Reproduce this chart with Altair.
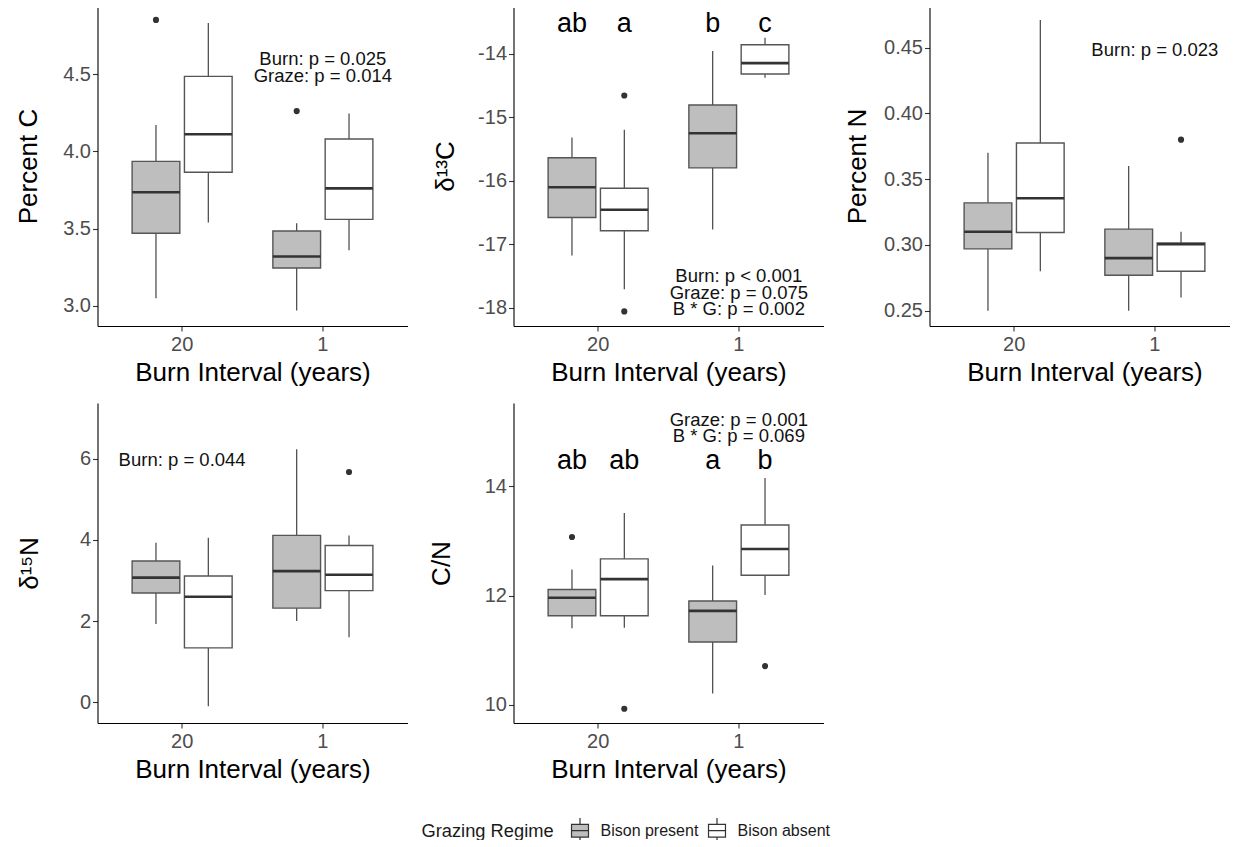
import altair as alt
import pandas as pd

FONT = "Liberation Sans"
GRAZE = ["Bison present", "Bison absent"]
BURN = ["20", "1"]

burn = ["20", "20", "1", "1"]
graze = ["Bison present", "Bison absent", "Bison present", "Bison absent"]

# Percent C
pc_lo = [3.05, 3.54, 2.97, 3.36]
pc_q1 = [3.47, 3.865, 3.245, 3.56]
pc_med = [3.735, 4.11, 3.32, 3.76]
pc_q3 = [3.935, 4.485, 3.485, 4.08]
pc_hi = [4.17, 4.83, 3.535, 4.245]
pc_out_burn = ["20", "1"]
pc_out_graze = ["Bison present", "Bison present"]
pc_out_val = [4.85, 4.26]
pc_ann_text = ["Burn: p = 0.025", "Graze: p = 0.014"]
pc_ann_burn = ["1", "1"]
pc_ann_y = [4.596, 4.488]

# delta 13C
dc_lo = [-17.18, -17.71, -16.77, -14.38]
dc_q1 = [-16.58, -16.79, -15.80, -14.32]
dc_med = [-16.105, -16.46, -15.255, -14.15]
dc_q3 = [-15.64, -16.12, -14.81, -13.86]
dc_hi = [-15.32, -15.20, -13.96, -13.75]
dc_out_burn = ["20", "20"]
dc_out_graze = ["Bison absent", "Bison absent"]
dc_out_val = [-14.66, -18.06]
dc_letters = ["ab", "a", "b", "c"]
dc_letter_y = -13.53
dc_ann_text = ["Burn: p < 0.001", "Graze: p = 0.075", "B * G: p = 0.002"]
dc_ann_burn = ["1", "1", "1"]
dc_ann_y = [-17.507, -17.77, -18.03]

# Percent N
pn_lo = [0.25, 0.28, 0.25, 0.26]
pn_q1 = [0.297, 0.3095, 0.277, 0.28]
pn_med = [0.31, 0.3355, 0.29, 0.3005]
pn_q3 = [0.332, 0.3775, 0.312, 0.3015]
pn_hi = [0.37, 0.471, 0.36, 0.31]
pn_out_burn = ["1"]
pn_out_graze = ["Bison absent"]
pn_out_val = [0.38]
pn_ann_text = ["Burn: p = 0.023"]
pn_ann_burn = ["1"]
pn_ann_y = [0.4485]

# delta 15N
dn_lo = [1.93, -0.10, 2.00, 1.60]
dn_q1 = [2.69, 1.34, 2.32, 2.75]
dn_med = [3.07, 2.60, 3.23, 3.14]
dn_q3 = [3.48, 3.11, 4.11, 3.86]
dn_hi = [3.93, 4.05, 6.23, 4.11]
dn_out_burn = ["1"]
dn_out_graze = ["Bison absent"]
dn_out_val = [5.67]
dn_ann_text = ["Burn: p = 0.044"]
dn_ann_burn = ["20"]
dn_ann_y = [5.96]

# C/N
cn_lo = [11.40, 11.41, 10.21, 12.01]
cn_q1 = [11.63, 11.63, 11.15, 12.37]
cn_med = [11.96, 12.30, 11.72, 12.85]
cn_q3 = [12.11, 12.67, 11.90, 13.29]
cn_hi = [12.475, 13.51, 12.55, 14.15]
cn_out_burn = ["20", "20", "1"]
cn_out_graze = ["Bison present", "Bison absent", "Bison absent"]
cn_out_val = [13.07, 9.93, 10.71]
cn_letters = ["ab", "ab", "a", "b"]
cn_letter_y = 14.46
cn_ann_text = ["Graze: p = 0.001", "B * G: p = 0.069"]
cn_ann_burn = ["1", "1"]
cn_ann_y = [15.21, 14.91]

W, H = 310, 320
BOX_W = 47.7


def panel(lo, q1, med, q3, hi, ob, og, ov, at, ab, ay, ytitle, domain, ticks,
          label_expr, title_pad, letters=None, letter_y=None):
    stats = pd.DataFrame({"burn": burn, "graze": graze, "lo": lo, "q1": q1,
                          "med": med, "q3": q3, "hi": hi})
    outl = pd.DataFrame({"burn": ob, "graze": og, "val": ov})
    ann = pd.DataFrame({"burn": ab, "y": ay, "text": at})

    xaxis = alt.Axis(title="Burn Interval (years)", labelAngle=0,
                     labelPadding=3, titlePadding=5)
    xenc = alt.X("burn:N", sort=BURN,
                 scale=alt.Scale(domain=BURN, paddingInner=0.2893, paddingOuter=0.246),
                 axis=xaxis)
    xo = alt.XOffset("graze:N", sort=GRAZE,
                     scale=alt.Scale(domain=GRAZE, paddingInner=0.088, paddingOuter=0))
    yscale = alt.Scale(domain=domain, nice=False, zero=False)
    yaxis = alt.Axis(title=ytitle, values=ticks, labelExpr=label_expr,
                     titlePadding=title_pad, labelPadding=2)

    whisk = alt.Chart(stats).mark_rule(color="#333333", strokeWidth=1.1).encode(
        x=xenc, xOffset=xo,
        y=alt.Y("lo:Q", scale=yscale, axis=yaxis), y2="hi:Q")
    box = alt.Chart(stats).mark_bar(stroke="#555555", strokeWidth=1.4).encode(
        x=xenc, xOffset=xo,
        y=alt.Y("q1:Q", scale=yscale, axis=yaxis), y2="q3:Q",
        fill=alt.Fill("graze:N", sort=GRAZE,
                      scale=alt.Scale(domain=GRAZE, range=["#BEBEBE", "#FFFFFF"]),
                      legend=alt.Legend(
                          title="Grazing Regime", orient="none",
                          legendX=324, legendY=813, direction="horizontal",
                          titleOrient="left", titleFontSize=18.3, titleFontWeight="normal",
                          titleColor="#1a1a1a", titleFont=FONT, titlePadding=14,
                          labelFont=FONT, labelFontSize=16, labelColor="#1a1a1a",
                          labelOffset=9, columnPadding=7,
                          symbolType="M-0.8,-0.6H0.8V0.6H-0.8Z M-0.8,0H0.8 M0,-0.6V-1.2 M0,0.6V1.2",
                          symbolSize=450, symbolStrokeColor="#333333",
                          symbolStrokeWidth=1.2)))
    medt = alt.Chart(stats).mark_tick(color="#333333", thickness=2.6, size=BOX_W,
                                      opacity=1).encode(
        x=xenc, xOffset=xo, y=alt.Y("med:Q", scale=yscale, axis=yaxis))
    pts = alt.Chart(outl).mark_circle(color="#333333", size=38, opacity=1).encode(
        x=xenc, xOffset=xo, y=alt.Y("val:Q", scale=yscale, axis=yaxis))
    anns = alt.Chart(ann).mark_text(font=FONT, fontSize=18.5, color="#111111",
                                    baseline="middle", align="center").encode(
        x=xenc, y=alt.Y("y:Q", scale=yscale, axis=yaxis), text="text:N")
    layers = [whisk, box, medt, pts, anns]
    if letters is not None:
        lt = pd.DataFrame({"burn": burn, "graze": graze, "text": letters,
                           "y": [letter_y] * 4})
        layers.append(alt.Chart(lt).mark_text(font=FONT, fontSize=27, color="#000000",
                                              baseline="middle", align="center").encode(
            x=xenc, xOffset=xo, y=alt.Y("y:Q", scale=yscale, axis=yaxis), text="text:N"))
    return alt.layer(*layers).properties(width=W, height=H)


p1 = panel(pc_lo, pc_q1, pc_med, pc_q3, pc_hi, pc_out_burn, pc_out_graze, pc_out_val,
           pc_ann_text, pc_ann_burn, pc_ann_y, "Percent C", [2.87, 4.94],
           [3.0, 3.5, 4.0, 4.5], "format(datum.value, '.1f')", 21.5)
p2 = panel(dc_lo, dc_q1, dc_med, dc_q3, dc_hi, dc_out_burn, dc_out_graze, dc_out_val,
           dc_ann_text, dc_ann_burn, dc_ann_y, "δ¹³C", [-18.29, -13.25],
           [-18, -17, -16, -15, -14], "'' + datum.value", 19,
           dc_letters, dc_letter_y)
p3 = panel(pn_lo, pn_q1, pn_med, pn_q3, pn_hi, pn_out_burn, pn_out_graze, pn_out_val,
           pn_ann_text, pn_ann_burn, pn_ann_y, "Percent N", [0.2384, 0.4816],
           [0.25, 0.30, 0.35, 0.40, 0.45], "format(datum.value, '.2f')", 13.5)
p4 = panel(dn_lo, dn_q1, dn_med, dn_q3, dn_hi, dn_out_burn, dn_out_graze, dn_out_val,
           dn_ann_text, dn_ann_burn, dn_ann_y, "δ¹⁵N", [-0.51, 7.37],
           [0, 2, 4, 6], "'' + datum.value", 37)
p5 = panel(cn_lo, cn_q1, cn_med, cn_q3, cn_hi, cn_out_burn, cn_out_graze, cn_out_val,
           cn_ann_text, cn_ann_burn, cn_ann_y, "C/N", [9.67, 15.52],
           [10, 12, 14], "'' + datum.value", 29.5,
           cn_letters, cn_letter_y)

chart = alt.concat(p1, p2, p3, p4, p5, columns=3,
                   spacing={"row": 77, "column": 106}, bounds="flush").properties(
    padding={"left": 6.5, "top": -2, "right": -10, "bottom": -6}
).resolve_scale(y="independent", x="independent").configure_view(
    stroke=None
).configure_axis(
    grid=False, domainColor="#000000", domainWidth=1.1, tickColor="#333333",
    tickSize=5, tickWidth=1.1, labelColor="#4D4D4D", labelFont=FONT, labelFontSize=20,
    titleFont=FONT, titleFontSize=26, titleFontWeight="normal", titleColor="#000000"
)

chart.save("out.html", embed_options={"renderer": "svg", "actions": False})
